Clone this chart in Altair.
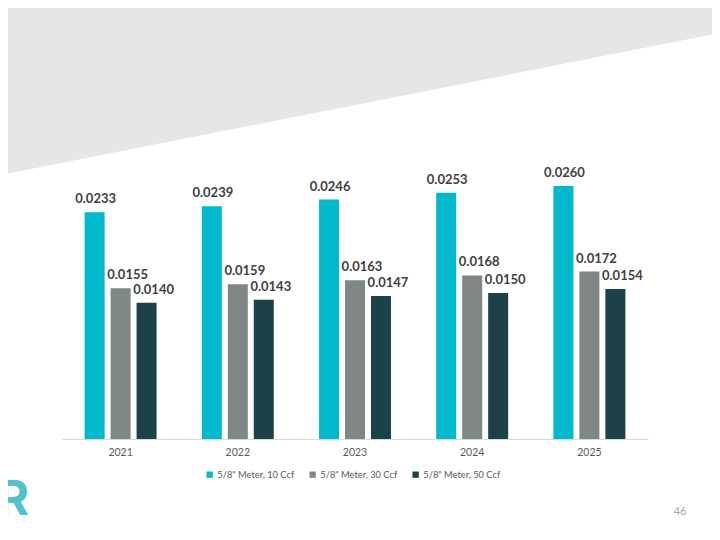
import altair as alt
import pandas as pd

# ---- data ----
years = ["2021", "2022", "2023", "2024", "2025"]
series = ['5/8" Meter, 10 Ccf', '5/8" Meter, 30 Ccf', '5/8" Meter, 50 Ccf']
vals_10 = [0.0233, 0.0239, 0.0246, 0.0253, 0.0260]
vals_30 = [0.0155, 0.0159, 0.0163, 0.0168, 0.0172]
vals_50 = [0.0140, 0.0143, 0.0147, 0.0150, 0.0154]
colors = ["#00B9CC", "#7E8785", "#1B4248"]

# slide decoration (grey band at top), in page pixel units
deco_x = [0, 720]
deco_bottom = [175, 33]
deco_top = [0, 0]
page_number = "46"

rows = []
for s, vals in zip(series, [vals_10, vals_30, vals_50]):
    for y, v in zip(years, vals):
        rows.append({"year": y, "series": s, "value": v})
df = pd.DataFrame(rows)
deco_df = pd.DataFrame({"px": deco_x, "pyb": deco_bottom, "pyt": deco_top})

FONT = "Lato"
W, H = 704, 524

x_enc = alt.X(
    "year:N",
    sort=years,
    scale=alt.Scale(range=[54, 640], paddingInner=0.386, paddingOuter=0.193),
    axis=alt.Axis(
        title=None, labelAngle=0, ticks=False, domainColor="#D9D9D9",
        domainWidth=1, labelColor="#595959", labelFont=FONT, labelFontSize=10.5,
        labelPadding=8, offset=431 - H, grid=False,
    ),
)
xo_enc = alt.XOffset("series:N", sort=series,
                     scale=alt.Scale(paddingInner=0.23, paddingOuter=0))
y_enc = alt.Y("value:Q", scale=alt.Scale(domain=[0, 0.03], range=[431, 139], nice=False),
              axis=None)

base = alt.Chart(df)

bars = base.mark_bar().encode(
    x=x_enc,
    xOffset=xo_enc,
    y=y_enc,
    color=alt.Color(
        "series:N",
        sort=series,
        scale=alt.Scale(domain=series, range=colors),
        legend=alt.Legend(
            title=None, orient="none", legendX=197, legendY=462,
            direction="horizontal", symbolType="square", symbolSize=40,
            symbolStrokeWidth=0, labelFont=FONT, labelFontSize=9.3,
            labelOffset=3, labelColor="#595959", columnPadding=13, padding=0,
        ),
    ),
)

label_style = dict(baseline="alphabetic", dy=-9, font=FONT, fontWeight="bold",
                   fontSize=13, color="#404040")

t_first = base.transform_filter(alt.datum.series == series[0]).mark_text(
    dx=1, **label_style
).encode(x=x_enc, xOffset=xo_enc, y=y_enc,
         text=alt.Text("value:Q", format=".4f"))

t_rest = base.transform_filter(alt.datum.series != series[0]).mark_text(
    dx=7, **label_style
).encode(x=x_enc, xOffset=xo_enc, y=y_enc,
         text=alt.Text("value:Q", format=".4f"))

plot = alt.layer(bars, t_first, t_rest)

deco = alt.Chart(deco_df).mark_area(color="#E5E6E6").encode(
    x=alt.X("px:Q", scale=alt.Scale(domain=[8, 8 + W], nice=False, zero=False), axis=None),
    y=alt.Y("pyb:Q", scale=alt.Scale(domain=[8, 8 + H], reverse=True, nice=False, zero=False),
            axis=None),
    y2="pyt:Q",
)

one = alt.Data(values=[{}])
pg = alt.Chart(one).mark_text(font=FONT, fontSize=11, color="#A6A6A6",
                              align="center", baseline="middle").encode(
    x=alt.value(672), y=alt.value(504), text=alt.value(page_number))

logo = alt.Chart(one).mark_text(font="Inter", fontWeight="bold", fontSize=48,
                                color="#4DC3CF", align="right",
                                baseline="alphabetic").encode(
    x=alt.value(21), y=alt.value(507), text=alt.value("R"))

chart = alt.layer(deco, plot, pg, logo).resolve_scale(
    x="independent", y="independent"
).properties(
    width=W, height=H, padding=0,
    autosize=alt.AutoSizeParams(type="none"),
).configure_view(stroke=None)

chart.save("out.html", embed_options={"renderer": "svg", "actions": False})
